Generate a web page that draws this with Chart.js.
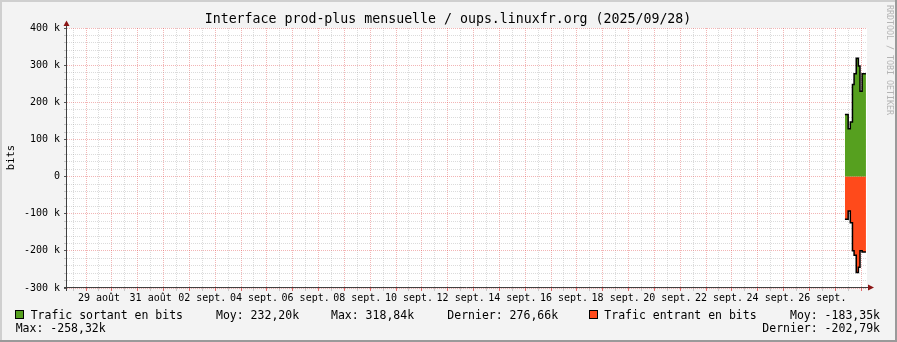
<!DOCTYPE html>
<html>
<head>
<meta charset="utf-8">
<script src="https://cdn.jsdelivr.net/npm/chart.js@4.4.1/dist/chart.umd.min.js"></script>
<style>
  html, body { margin: 0; padding: 0; background: #f3f3f3; }
  canvas { display: block; }
</style>
</head>
<body>
<canvas id="graph" width="897" height="342"></canvas>
<script>
// axe x en heures depuis le 29 août 00:00
const xMin = -17.7;
const xMax = 725.5;
const dayLabels = ['29 août', '31 août', '02 sept.', '04 sept.', '06 sept.', '08 sept.', '10 sept.',
    '12 sept.', '14 sept.', '16 sept.', '18 sept.', '20 sept.', '22 sept.', '24 sept.', '26 sept.'];

// début de chaque pas (le dernier élément = fin du dernier pas)
const stepTimes = [705, 708, 710, 712, 713.5, 715.5, 717.5, 719, 721, 724.5];
const outValues = [167000, 129000, 147000, 248000, 277000, 318840, 298000, 230000, 276660];
const inValues = [-115000, -93000, -124000, -200000, -212000, -258320, -244000, -200000, -202790];

const seriesNames = ['Trafic sortant en bits', 'Trafic entrant en bits'];
const seriesColors = ['#56a01f', '#ff4a1b'];
const moyLabels = ['232,20k', '-183,35k'];
const maxLabels = ['318,84k', '-258,32k'];
const lastLabels = ['276,66k', '-202,79k'];

const MONO = '"DejaVu Sans Mono", monospace';
const gridGray = 'rgba(143,143,143,0.32)';
const gridRed = 'rgba(222,60,60,0.38)';

function toSteps(values) {
    return stepTimes.map((t, i) => ({ x: t, y: values[Math.min(i, values.length - 1)] }));
}

const rrdDecor = {
    id: 'rrdDecor',
    beforeDraw(chart) {
        const ctx = chart.ctx;
        const a = chart.chartArea;
        ctx.save();
        ctx.fillStyle = '#f3f3f3';
        ctx.fillRect(0, 0, chart.width, chart.height);
        ctx.fillStyle = '#cfcfcf';
        ctx.fillRect(0, 0, chart.width, 2);
        ctx.fillRect(0, 0, 2, chart.height);
        ctx.fillStyle = '#9a9a9a';
        ctx.fillRect(0, chart.height - 2, chart.width, 2);
        ctx.fillRect(chart.width - 2, 0, 2, chart.height);
        ctx.fillStyle = '#ffffff';
        ctx.fillRect(a.left, a.top, a.right - a.left, a.bottom - a.top);
        ctx.restore();
    },
    afterDraw(chart) {
        const ctx = chart.ctx;
        const a = chart.chartArea;
        ctx.save();

        // axes
        ctx.strokeStyle = '#404040';
        ctx.lineWidth = 1;
        ctx.beginPath();
        ctx.moveTo(a.left - 0.5, a.top - 2);
        ctx.lineTo(a.left - 0.5, a.bottom + 3);
        ctx.moveTo(a.left - 3, a.bottom - 0.5);
        ctx.lineTo(a.right + 2, a.bottom - 0.5);
        ctx.stroke();

        ctx.fillStyle = '#8b1515';
        ctx.beginPath();
        ctx.moveTo(a.left - 3.5, a.top - 2);
        ctx.lineTo(a.left + 2.5, a.top - 2);
        ctx.lineTo(a.left - 0.5, a.top - 7.5);
        ctx.closePath();
        ctx.fill();
        ctx.beginPath();
        ctx.moveTo(a.right + 1, a.bottom - 3.5);
        ctx.lineTo(a.right + 1, a.bottom + 2.5);
        ctx.lineTo(a.right + 7, a.bottom - 0.5);
        ctx.closePath();
        ctx.fill();

        // titre
        ctx.fillStyle = '#000';
        ctx.font = '13.25px ' + MONO;
        ctx.textAlign = 'center';
        ctx.textBaseline = 'alphabetic';
        ctx.fillText('Interface prod-plus mensuelle / oups.linuxfr.org (2025/09/28)', 448, 23);

        // unité
        ctx.save();
        ctx.translate(11, 157.5);
        ctx.rotate(-Math.PI / 2);
        ctx.font = '10.5px ' + MONO;
        ctx.textBaseline = 'middle';
        ctx.fillText('bits', 0, 0);
        ctx.restore();

        // filigrane
        ctx.save();
        ctx.translate(889, 60);
        ctx.rotate(Math.PI / 2);
        ctx.font = '8.3px ' + MONO;
        ctx.fillStyle = '#b4b4b4';
        ctx.textBaseline = 'middle';
        ctx.fillText('RRDTOOL / TOBI OETIKER', 0, 0);
        ctx.restore();

        // légende
        ctx.font = '11.5px ' + MONO;
        ctx.textAlign = 'left';
        ctx.textBaseline = 'alphabetic';
        const y1 = 318.5, y2 = 332;
        [[15.5, 0], [589.5, 1]].forEach(([sx, i]) => {
            ctx.fillStyle = seriesColors[i];
            ctx.fillRect(sx, 310.5, 8, 8);
            ctx.strokeStyle = '#000';
            ctx.lineWidth = 1;
            ctx.strokeRect(sx, 310.5, 8, 8);
        });
        ctx.fillStyle = '#000';
        ctx.fillText(seriesNames[0], 30.7, y1);
        ctx.fillText('Moy: ' + moyLabels[0], 216, y1);
        ctx.fillText('Max: ' + maxLabels[0], 331, y1);
        ctx.fillText('Dernier: ' + lastLabels[0], 447.3, y1);
        ctx.fillText(seriesNames[1], 604.3, y1);
        ctx.fillText('Max: ' + maxLabels[1], 15.7, y2);
        ctx.textAlign = 'right';
        ctx.fillText('Moy: ' + moyLabels[1], 880, y1);
        ctx.fillText('Dernier: ' + lastLabels[1], 880, y2);
        ctx.restore();
    }
};

new Chart(document.getElementById('graph'), {
    type: 'line',
    data: {
        datasets: [{
            label: seriesNames[0],
            data: toSteps(outValues),
            stepped: true,
            fill: 'origin',
            backgroundColor: seriesColors[0],
            borderColor: '#000',
            borderWidth: 1.5,
            pointRadius: 0
        }, {
            label: seriesNames[1],
            data: toSteps(inValues),
            stepped: true,
            fill: 'origin',
            backgroundColor: seriesColors[1],
            borderColor: '#000',
            borderWidth: 1.5,
            pointRadius: 0
        }]
    },
    options: {
        responsive: false,
        animation: false,
        devicePixelRatio: 1,
        layout: { padding: { top: 28, right: 30, left: 0, bottom: 0 } },
        plugins: {
            legend: { display: false },
            tooltip: { enabled: false },
            title: { display: false }
        },
        scales: {
            x: {
                type: 'linear',
                min: xMin,
                max: xMax,
                z: 1,
                afterBuildTicks: (scale) => {
                    const ticks = [];
                    for (let h = -12; h <= 720; h += 12) ticks.push({ value: h });
                    scale.ticks = ticks;
                },
                afterFit: (scale) => { scale.height = 54; },
                ticks: {
                    autoSkip: false,
                    maxRotation: 0,
                    padding: 1,
                    color: '#000',
                    font: { family: MONO, size: 10 },
                    callback: (v) => {
                        const i = (v - 12) / 48;
                        return Number.isInteger(i) && dayLabels[i] ? dayLabels[i] : '';
                    }
                },
                grid: {
                    color: (c) => (c.tick && c.tick.value % 24 === 0 ? gridRed : gridGray),
                    tickColor: (c) => (c.tick && c.tick.value % 24 === 0 ? '#e06a6a' : '#c8c8c8'),
                    tickLength: 3,
                    lineWidth: 1
                },
                border: { display: false, dash: [1, 1] }
            },
            y: {
                type: 'linear',
                min: -300000,
                max: 400000,
                z: 1,
                afterBuildTicks: (scale) => {
                    const ticks = [];
                    for (let v = -300000; v <= 400000; v += 20000) ticks.push({ value: v });
                    scale.ticks = ticks;
                },
                afterFit: (scale) => { scale.width = 67; },
                ticks: {
                    autoSkip: false,
                    padding: 4,
                    color: '#000',
                    font: { family: MONO, size: 10 },
                    callback: (v) => (v % 100000 === 0 ? (v === 0 ? '0' : (v / 1000) + ' k') : '')
                },
                grid: {
                    color: (c) => (c.tick && c.tick.value % 100000 === 0 ? gridRed : gridGray),
                    tickColor: (c) => (c.tick && c.tick.value % 100000 === 0 ? '#555' : '#c8c8c8'),
                    tickLength: 3,
                    lineWidth: 1
                },
                border: { display: false, dash: [1, 1] }
            }
        }
    },
    plugins: [rrdDecor]
});
</script>
</body>
</html>
